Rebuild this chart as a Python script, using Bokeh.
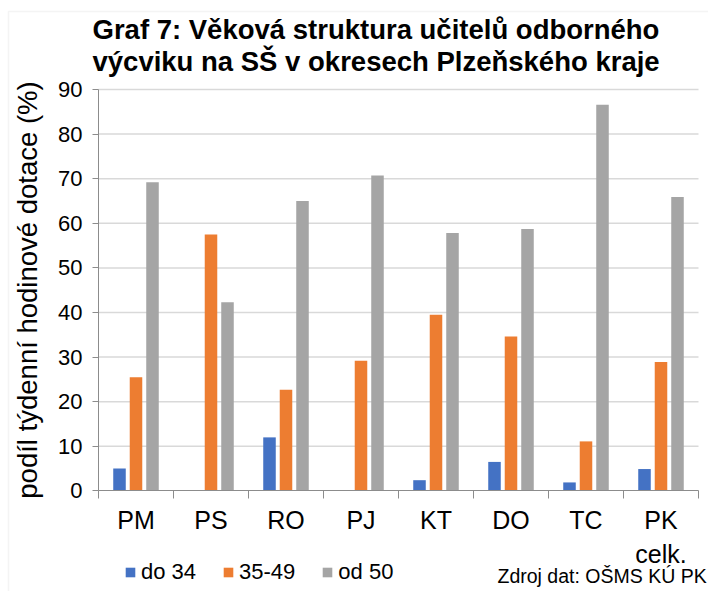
from bokeh.plotting import figure
from bokeh.models import (ColumnDataSource, FixedTicker, Legend, LegendItem,
                          Label, BoxAnnotation, Range1d, LinearAxis)
from bokeh.embed import file_html
from bokeh.resources import INLINE

# ---- data ----
categories = ["PM", "PS", "RO", "PJ", "KT", "DO", "TC", "PK celk."]
tick_labels = ["PM", "PS", "RO", "PJ", "KT", "DO", "TC", "PK\ncelk."]
do_34 = [5.0, 0.0, 12.0, 0.0, 2.4, 6.5, 1.9, 4.9]
v35_49 = [25.5, 57.5, 22.7, 29.2, 39.5, 34.6, 11.1, 28.9]
od_50 = [69.2, 42.3, 65.0, 70.7, 57.8, 58.7, 86.6, 65.9]
series_names = ["do 34", "35-49", "od 50"]
series_values = [do_34, v35_49, od_50]
colors = ["#4472C4", "#ED7D31", "#A5A5A5"]
y_ticks = [0, 10, 20, 30, 40, 50, 60, 70, 80, 90]
title_lines = ["Graf 7: Věková struktura učitelů odborného",
               "výcviku na SŠ v okresech Plzeňského kraje"]
y_label = "podíl týdenní hodinové dotace (%)"
source_note = "Zdroj dat: OŠMS KÚ PK"

# ---- layout (pixels) ----
W, H = 708, 591
PLOT_L, PLOT_R = 98, 698          # plot area left/right in px
PLOT_T, PLOT_B = 89, 490.4        # px of value 90 and value 0
Y_MAX = 90
n = len(categories)
px_per_cat = (PLOT_R - PLOT_L) / n
px_per_unit = (PLOT_B - PLOT_T) / Y_MAX

def dx(px):  # canvas px -> data x
    return (px - PLOT_L) / px_per_cat

def dy(py):  # canvas px (from top) -> data y
    return (PLOT_B - py) / px_per_unit

FONT = "Liberation Sans"
AXIS_GREY = "#8c8c8c"
GRID_GREY = "#d9d9d9"

p = figure(width=W, height=H, output_backend="svg", toolbar_location=None,
           title=None, x_range=Range1d(dx(0), dx(W)), y_range=Range1d(dy(H), dy(0)),
           x_axis_type=None, y_axis_type=None, min_border=0)
p.outline_line_color = None
p.background_fill_color = "white"
p.border_fill_color = "white"

# chart border
p.add_layout(BoxAnnotation(left=dx(8), right=dx(W + 20), top=dy(11), bottom=dy(H + 20),
                           fill_alpha=0, fill_color=None, line_color=GRID_GREY,
                           line_width=1.5, level="underlay"))

# ---- axes (fixed at the plot area edges) ----
yaxis = LinearAxis(fixed_location=0, bounds=(0, Y_MAX),
                   ticker=FixedTicker(ticks=y_ticks))
yaxis.axis_line_color = AXIS_GREY
yaxis.major_tick_line_color = AXIS_GREY
yaxis.major_tick_in = 0
yaxis.major_tick_out = 6
yaxis.minor_tick_line_color = None
yaxis.major_label_text_font = FONT
yaxis.major_label_text_font_size = "22px"
yaxis.major_label_text_color = "black"
yaxis.major_label_standoff = 10
yaxis.axis_label = y_label
yaxis.axis_label_text_font = FONT
yaxis.axis_label_text_font_size = "27.5px"
yaxis.axis_label_text_font_style = "normal"
yaxis.axis_label_text_color = "black"
yaxis.axis_label_standoff = 12
p.add_layout(yaxis, "left")

centers = [i + 0.5 for i in range(n)]
xaxis = LinearAxis(fixed_location=0, bounds=(0, n),
                   ticker=FixedTicker(ticks=centers, minor_ticks=list(range(n + 1))))
xaxis.major_label_overrides = {c: t for c, t in zip(centers, tick_labels)}
xaxis.axis_line_color = AXIS_GREY
xaxis.major_tick_line_color = None
xaxis.major_tick_in = 0
xaxis.major_tick_out = 8
xaxis.minor_tick_line_color = AXIS_GREY
xaxis.minor_tick_in = 0
xaxis.minor_tick_out = 8
xaxis.major_label_text_font = FONT
xaxis.major_label_text_font_size = "25px"
xaxis.major_label_text_color = "black"
xaxis.major_label_standoff = 7
p.add_layout(xaxis, "below")

# horizontal gridlines from the y ticks
grid_src = ColumnDataSource(dict(y=y_ticks[1:], x0=[0] * (len(y_ticks) - 1),
                                 x1=[n] * (len(y_ticks) - 1)))
p.segment(x0="x0", x1="x1", y0="y", y1="y", source=grid_src,
          line_color=GRID_GREY, line_width=1.5, level="underlay")

# ---- bars ----
offset = 0.22
bar_w = 0.167
items = []
for k, (name, vals, col) in enumerate(zip(series_names, series_values, colors)):
    src = ColumnDataSource(dict(x=[c + (k - 1) * offset for c in centers], top=vals))
    r = p.vbar(x="x", top="top", width=bar_w, bottom=0, source=src,
               fill_color=col, line_color=None)
    items.append(LegendItem(label=name, renderers=[r]))

# legend
legend = Legend(items=items, orientation="horizontal", location=(124, H - 572 - 13),
                glyph_width=12, glyph_height=12, label_standoff=5, spacing=26,
                label_height=26, padding=0, margin=0, border_line_color=None,
                background_fill_alpha=0, label_text_font=FONT,
                label_text_font_size="22px", label_text_color="black")
p.add_layout(legend, "center")

# title lines
for line, base in zip(title_lines, [29, 61]):
    p.add_layout(Label(x=92, y=H - base, x_units="screen", y_units="screen", text=line,
                       text_font=FONT, text_font_size="27.5px", text_font_style="bold",
                       text_color="black", text_baseline="alphabetic"))

# source note
p.add_layout(Label(x=497, y=H - 575, x_units="screen", y_units="screen", text=source_note,
                   text_font=FONT, text_font_size="19.5px", text_color="black",
                   text_baseline="alphabetic"))

open("out.html", "w").write(file_html(p, INLINE))
